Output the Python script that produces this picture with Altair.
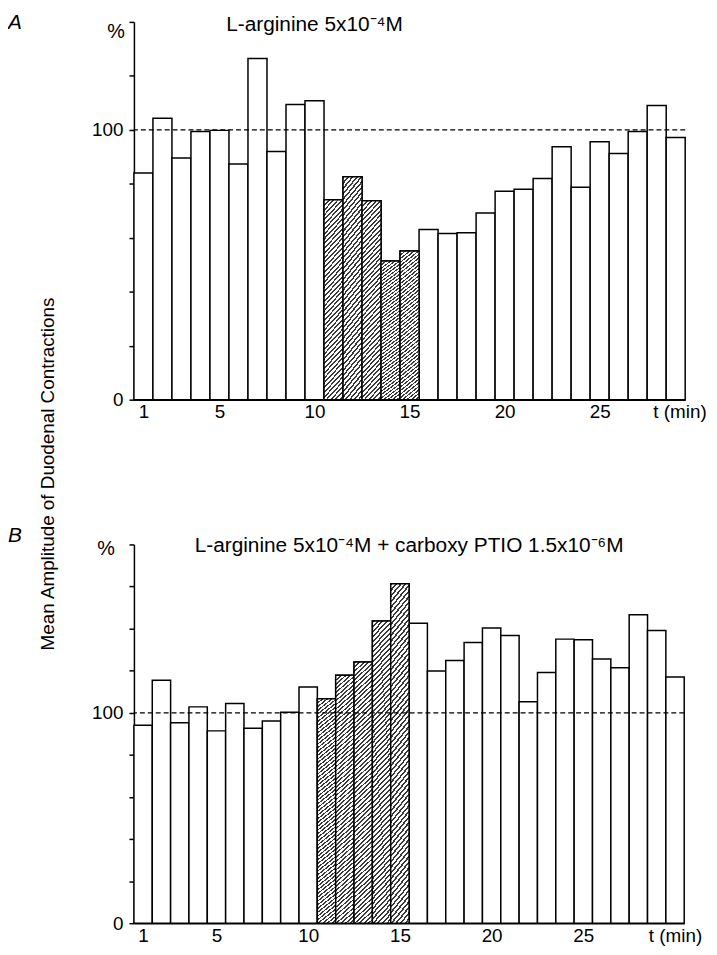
import altair as alt
import pandas as pd

# ---------------- data ----------------
minutes_a = [1, 2, 3, 4, 5, 6, 7, 8, 9, 10, 11, 12, 13, 14, 15,
             16, 17, 18, 19, 20, 21, 22, 23, 24, 25, 26, 27, 28, 29]
amp_a = [84.0, 104.3, 89.6, 99.4, 99.8, 87.3, 126.4, 92.0, 109.4, 110.8,
         74.1, 82.6, 73.7, 51.4, 55.1, 63.1, 61.6, 61.9, 69.2, 77.2,
         78.0, 82.0, 93.7, 78.7, 95.6, 91.2, 99.4, 109.0, 97.2]

minutes_b = [1, 2, 3, 4, 5, 6, 7, 8, 9, 10, 11, 12, 13, 14, 15,
             16, 17, 18, 19, 20, 21, 22, 23, 24, 25, 26, 27, 28, 29, 30]
amp_b = [94.1, 115.5, 95.3, 102.8, 91.4, 104.4, 92.7, 96.1, 100.2, 112.3,
         106.7, 117.8, 124.1, 143.6, 161.3, 142.5, 119.8, 124.8, 133.4, 140.3,
         136.7, 105.2, 119.1, 135.0, 134.7, 125.5, 121.4, 146.6, 139.1, 117.0]

treated_minutes = [11, 12, 13, 14, 15]
x_tick_labels = [1, 5, 10, 15, 20, 25]
x_unit_label = "t (min)"
y_ticks_a = [0, 20, 40, 60, 80, 100, 120, 140]
y_ticks_b = [0, 20, 40, 60, 80, 100, 120, 140, 160, 180]
y_labelled = [0, 100]
reference_level = [100]
y_unit = "%"
y_title = "Mean Amplitude of Duodenal Contractions"
title_a = "L-arginine 5x10\u207b\u2074M"
title_b = "L-arginine 5x10\u207b\u2074M + carboxy PTIO 1.5x10\u207b\u2076M"
letters = ["A", "B"]

FONT = "Liberation Sans"


def hatch(n, dx, dy):
    stops = []
    for k in range(n):
        a = k / n
        b = (k + 0.42) / n
        c = (k + 1) / n
        stops += [
            {"offset": a, "color": "#3a3a3a"},
            {"offset": b, "color": "#3a3a3a"},
            {"offset": b, "color": "#ffffff"},
            {"offset": min(c, 1.0), "color": "#ffffff"},
        ]
    return {"gradient": "linear", "x1": 0, "y1": 0, "x2": dx, "y2": dy, "stops": stops}


def panel(minutes, amps, yticks, title, title_x, title_base, letter, letter_y,
          pct_x, pct_y, unit_x, grad, width, height, with_ytitle=False):
    df = pd.DataFrame({"minute": minutes, "amp": amps})
    df["treated"] = df["minute"].isin(treated_minutes)

    xs = alt.Scale(domain=[minutes[0] - 0.5, minutes[-1] + 0.5], nice=False, zero=False)
    ys = alt.Scale(domain=[yticks[0], yticks[-1]], nice=False)

    lab_cond = " || ".join(f"datum.value == {v}" for v in y_labelled)
    xaxis = alt.Axis(
        values=x_tick_labels + [unit_x],
        labelExpr=f"datum.value > {minutes[-1] - 1.5} ? '{x_unit_label}' : datum.label",
        ticks=False, grid=False, labelFlush=False, labelPadding=3, title=None,
        labelFontSize=19, labelColor="black", domainColor="black", domainWidth=1.5,
        labelOverlap=False,
    )
    yaxis = alt.Axis(
        values=yticks, labelExpr=f"({lab_cond}) ? datum.label : ''",
        tickSize=5, tickWidth=1.5, tickColor="black", labelPadding=6, grid=False,
        title=None, labelFontSize=19, labelColor="black", domainColor="black",
        domainWidth=1.5, labelOverlap=False,
    )

    base = alt.Chart(df).transform_calculate(
        x0="datum.minute - 0.5", x1="datum.minute + 0.5"
    )
    bars = base.mark_bar(fill="white", stroke="black", strokeWidth=1.5).encode(
        x=alt.X("x0:Q", scale=xs, axis=xaxis),
        x2="x1:Q",
        y=alt.Y("amp:Q", scale=ys, axis=yaxis),
        y2=alt.datum(0),
    )
    hatched = base.transform_filter("datum.treated").mark_bar(
        fill=grad, stroke="black", strokeWidth=1.5
    ).encode(x="x0:Q", x2="x1:Q", y="amp:Q", y2=alt.datum(0))

    rule = alt.Chart(pd.DataFrame({"level": reference_level})).mark_rule(
        color="black", strokeWidth=1.3, strokeDash=[5, 3]
    ).encode(y="level:Q")

    ttl = alt.Chart(pd.DataFrame({"text": [title]})).mark_text(
        font=FONT, fontSize=21, align="center", baseline="alphabetic", color="black"
    ).encode(x=alt.datum(title_x), y=alt.value(title_base), text="text:N")

    let = alt.Chart(pd.DataFrame({"text": [letter]})).mark_text(
        font=FONT, fontSize=21, fontStyle="italic", align="left",
        baseline="alphabetic", color="black"
    ).encode(x=alt.value(-127), y=alt.value(letter_y), text="text:N")

    pct = alt.Chart(pd.DataFrame({"text": [y_unit]})).mark_text(
        font=FONT, fontSize=20, align="center", baseline="middle", color="black"
    ).encode(x=alt.value(pct_x), y=alt.value(pct_y), text="text:N")

    layers = [bars, hatched, rule, ttl, let, pct]
    if with_ytitle:
        yt = alt.Chart(pd.DataFrame({"text": [y_title]})).mark_text(
            font=FONT, fontSize=19, angle=270, align="center", baseline="middle",
            color="black"
        ).encode(x=alt.value(-87), y=alt.value(456), text="text:N")
        layers.append(yt)

    return alt.layer(*layers).properties(width=width, height=height)


panel_a = panel(minutes_a, amp_a, y_ticks_a, title_a, 10, 9, letters[0], 7,
                -18, 10, 29.2, hatch(46, 0.113, 1.092), 556, 381, with_ytitle=True)
panel_b = panel(minutes_b, amp_b, y_ticks_b, title_b, 15.5, 8, letters[1], -2,
                -28, 5, 30, hatch(64, 0.070, 1.061), 555, 382)

chart = alt.vconcat(panel_a, panel_b, spacing=146, bounds="flush").properties(
    padding={"left": 0, "top": 0, "right": 2, "bottom": 0}
).configure(font=FONT).configure_view(stroke=None)

chart.save("out.html", embed_options={"renderer": "svg", "actions": False})
